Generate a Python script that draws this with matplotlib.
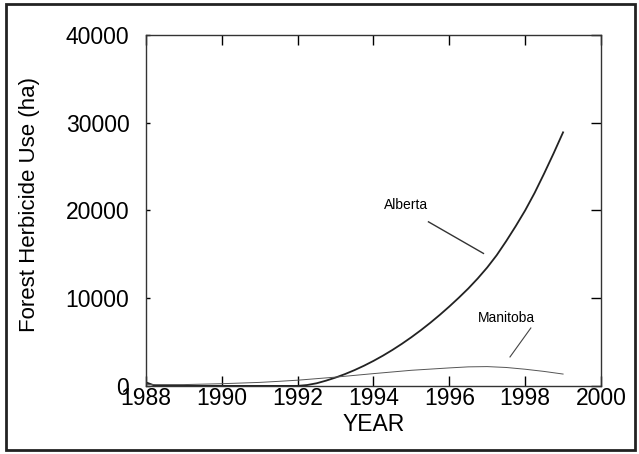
import matplotlib
matplotlib.use("Agg")
import matplotlib.pyplot as plt
from matplotlib.patches import Rectangle
from matplotlib.lines import Line2D

plt.rcParams['font.family'] = ['Liberation Sans', 'DejaVu Sans']

alberta_years = [1988, 1988.25, 1989, 1990, 1991, 1992, 1992.25, 1992.5, 1992.75,
                 1993, 1993.25, 1993.5, 1993.75, 1994, 1994.25, 1994.5, 1994.75,
                 1995, 1995.25, 1995.5, 1995.75, 1996, 1996.25, 1996.5, 1996.75,
                 1997, 1997.25, 1997.5, 1997.75, 1998, 1998.25, 1998.5, 1998.75, 1999]
alberta_values = [400, 0, 0, 0, 0, 0, 100, 300, 600,
                  950, 1350, 1800, 2300, 2850, 3450, 4100, 4800,
                  5550, 6350, 7200, 8100, 9050, 10050, 11100, 12250,
                  13500, 14900, 16500, 18200, 20000, 22000, 24200, 26500, 28900]

manitoba_years = [1988, 1989, 1990, 1991, 1991.5, 1992, 1993, 1994, 1995, 1996,
                  1996.5, 1997, 1997.5, 1998, 1998.5, 1999]
manitoba_values = [150, 150, 250, 400, 520, 650, 1000, 1400, 1780, 2050,
                   2170, 2200, 2100, 1900, 1650, 1350]

x_ticks = [1988, 1990, 1992, 1994, 1996, 1998, 2000]
y_ticks = [0, 10000, 20000, 30000, 40000]

fig = plt.figure(figsize=(6.39, 4.54), dpi=100)
ax = fig.add_axes([0.2285, 0.150, 0.712, 0.773])

ax.plot(alberta_years, alberta_values, color='#222222', lw=1.3)
ax.plot(manitoba_years, manitoba_values, color='#555555', lw=0.7)

ax.set_xlim(1988, 2000)
ax.set_ylim(0, 40000)
ax.set_xticks(x_ticks)
ax.set_yticks(y_ticks)
ax.tick_params(axis='both', direction='in', length=7, width=1, labelsize=16.5,
               top=True, right=True, left=True, pad=1)
ax.tick_params(axis='y', pad=12)
for t in ax.yaxis.get_major_ticks():
    t.tick1line.set_markersize(3)
for s in ax.spines.values():
    s.set_linewidth(1)
    s.set_color('#333333')

ax.set_xlabel('YEAR', fontsize=16.5, labelpad=2)
ax.set_ylabel('Forest Herbicide Use (ha)', fontsize=16)
ax.yaxis.set_label_coords(-0.233, 0.517)

ax.text(1994.85, 20600, 'Alberta', fontsize=10, ha='center', va='center')
ax.add_line(Line2D([1995.45, 1996.9], [18700, 15100], color='#333333', lw=1))
ax.text(1997.5, 7750, 'Manitoba', fontsize=10, ha='center', va='center')
ax.add_line(Line2D([1998.15, 1997.6], [6600, 3300], color='#444444', lw=0.8))

fig.patches.append(Rectangle((0.009, 0.008), 0.984, 0.983, transform=fig.transFigure,
                             fill=False, edgecolor='#222222', lw=2))

fig.savefig('out.png', dpi=100)
